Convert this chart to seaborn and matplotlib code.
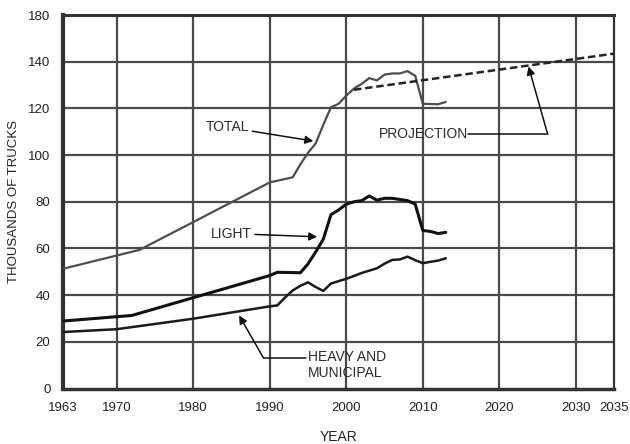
import matplotlib
matplotlib.use("Agg")
import matplotlib.pyplot as plt
import seaborn as sns

# values (thousands of trucks)
total_years = [1963, 1973, 1990, 1993, 1994, 1995, 1996, 1997, 1998, 1999, 2000,
               2001, 2002, 2003, 2004, 2005, 2006, 2007, 2008, 2009, 2010, 2011,
               2012, 2013]
total_vals = [51.3, 59.4, 88.3, 90.5, 96, 101, 105, 113, 120.5, 122, 125.5,
              128.5, 130.5, 133, 132, 134.5, 135, 135, 136, 134, 122, 121.9,
              121.8, 122.8]

light_years = [1963, 1972, 1980, 1990, 1991, 1994, 1995, 1996, 1997, 1998, 1999,
               2000, 2001, 2002, 2003, 2004, 2005, 2006, 2007, 2008, 2009, 2010,
               2011, 2012, 2013]
light_vals = [28.9, 31.3, 38.9, 48.4, 49.8, 49.6, 53.4, 58.5, 64, 74.5, 76.5,
              79, 80, 80.5, 82.5, 80.7, 81.5, 81.5, 81, 80.5, 79, 67.7,
              67.3, 66.4, 66.9]

heavy_years = [1963, 1970, 1980, 1990, 1991, 1992, 1993, 1994, 1995, 1996, 1997,
               1998, 1999, 2000, 2001, 2002, 2003, 2004, 2005, 2006, 2007, 2008,
               2009, 2010, 2011, 2012, 2013]
heavy_vals = [24.2, 25.4, 29.9, 35.2, 35.6, 39, 42, 44, 45.5, 43.5, 41.8,
              45, 46, 47, 48.2, 49.5, 50.5, 51.5, 53.5, 55.1, 55.3, 56.5,
              55, 53.7, 54.3, 54.8, 55.8]

proj_years = [2001, 2035]
proj_vals = [128, 143.5]

x_ticks = [1963, 1970, 1980, 1990, 2000, 2010, 2020, 2030, 2035]
y_ticks = [0, 20, 40, 60, 80, 100, 120, 140, 160]
y_tick_labels = ["0", "20", "40", "60", "80", "100", "120", "140", "180"]

sns.set_style("white")
plt.rcParams["font.family"] = ["Liberation Sans", "DejaVu Sans"]

fig = plt.figure(figsize=(6.3, 4.44), dpi=100)
ax = fig.add_axes([0.1, 0.125, 0.875, 0.841])

grid_c = "#4a4a4a"
for x in x_ticks[1:-1]:
    ax.axvline(x, color=grid_c, lw=1.6, zorder=1)
for y in y_ticks[1:-1]:
    ax.axhline(y, color=grid_c, lw=1.6, zorder=1)

sns.lineplot(x=total_years, y=total_vals, ax=ax, color="#4d4d4d", lw=1.6, zorder=3)
sns.lineplot(x=light_years, y=light_vals, ax=ax, color="#111111", lw=2.2, zorder=3)
sns.lineplot(x=heavy_years, y=heavy_vals, ax=ax, color="#1a1a1a", lw=1.8, zorder=3)
sns.lineplot(x=proj_years, y=proj_vals, ax=ax, color="#222222", lw=1.8,
             linestyle=(0, (3, 1.5)), zorder=3)

ax.set_xlim(1963, 2035)
ax.set_ylim(0, 160)
ax.set_xticks(x_ticks)
ax.set_xticklabels([str(v) for v in x_ticks])
ax.set_yticks(y_ticks)
ax.set_yticklabels(y_tick_labels)
ax.tick_params(axis="x", length=0, labelsize=9.5, labelcolor="#222222", pad=10)
ax.tick_params(axis="y", length=0, labelsize=9.5, labelcolor="#222222", pad=9)

for side, w in [("left", 3), ("top", 2.2), ("bottom", 2.5), ("right", 1.6)]:
    ax.spines[side].set_visible(True)
    ax.spines[side].set_color("#333333")
    ax.spines[side].set_linewidth(w)

ax.set_xlabel("YEAR", fontsize=10, color="#222222", labelpad=11)
ax.set_ylabel("THOUSANDS OF TRUCKS", fontsize=9.5, color="#222222", labelpad=6)

arrow = dict(arrowstyle="-|>", color="#111111", lw=1.1, mutation_scale=12,
             shrinkA=0, shrinkB=0)
txt = dict(fontsize=10, color="#2a2a2a", zorder=5)

# callouts
ax.annotate("TOTAL", xy=(1995.7, 106), xytext=(1981.6, 112), va="center",
            ha="left", arrowprops=arrow, **txt)
ax.annotate("LIGHT", xy=(1996.2, 65), xytext=(1982.3, 66.4), va="center",
            ha="left", arrowprops=arrow, **txt)

ax.text(2004.2, 109, "PROJECTION", va="center", ha="left", **txt)
ax.plot([2015.9, 2026.3], [109, 109], color="#111111", lw=1.1, zorder=4)
ax.annotate("", xy=(2023.8, 138), xytext=(2026.3, 109), arrowprops=arrow)

ax.text(1995.0, 16.5, "HEAVY AND\nMUNICIPAL", va="top", ha="left",
        linespacing=1.15, **txt)
ax.plot([1989.2, 1994.7], [13, 13], color="#111111", lw=1.1, zorder=4)
ax.annotate("", xy=(1986.0, 31.3), xytext=(1989.2, 13), arrowprops=arrow)

fig.savefig("out.png", dpi=100)
